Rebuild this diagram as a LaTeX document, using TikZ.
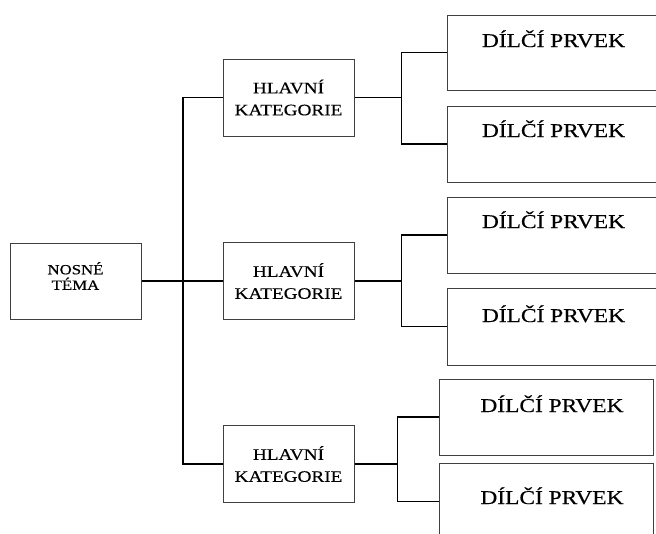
\documentclass[tikz,border=0pt]{standalone}
\usepackage{fontspec}
\setmainfont{Liberation Serif}
\newfontfamily\widefont[FakeStretch=1.2,FakeBold=0.4]{Liberation Serif}

\begin{document}
\begin{tikzpicture}[x=1pt,y=-1pt,
  box/.style={draw=black!75,line width=1pt,inner sep=0pt},
  temabox/.style={box,minimum width=131pt,minimum height=76pt,align=center,
    font=\widefont\fontsize{14}{15.5}\selectfont},
  katbox/.style={box,minimum width=131pt,minimum height=77pt,align=center,
    font=\widefont\fontsize{16}{22}\selectfont},
  dilbox/.style={box,minimum width=213pt,
    font=\widefont\fontsize{19.5}{22}\selectfont},
  link/.style={line width=1.8pt}]
  \clip (0,0) rectangle (656,533);
  \node[temabox,text depth=10pt] (tema) at (75.5,281) {NOSNÉ\\TÉMA};
  \node[katbox] (kat1) at (288.5,97.5) {HLAVNÍ\\KATEGORIE};
  \node[katbox] (kat2) at (288.5,281) {HLAVNÍ\\KATEGORIE};
  \node[katbox] (kat3) at (288.5,464) {HLAVNÍ\\KATEGORIE};
  \node[dilbox,text height=32pt,text depth=43pt] (prv1) at (553.5,52.5) {DÍLČÍ PRVEK};
  \node[dilbox,text height=31pt,text depth=45pt] (prv2) at (553.5,144) {DÍLČÍ PRVEK};
  \node[dilbox,text height=31pt,text depth=45pt] (prv3) at (553.5,235) {DÍLČÍ PRVEK};
  \node[dilbox,text height=34pt,text depth=43pt] (prv4) at (553.5,326.5) {DÍLČÍ PRVEK};
  \node[dilbox,minimum width=214pt,text height=33pt,text depth=43pt] (prv5)
    at (546,417) {\hspace*{12pt}DÍLČÍ PRVEK};
  \node[dilbox,minimum width=214pt,text height=41pt,text depth=36pt] (prv6)
    at (546,501.5) {\hspace*{12pt}DÍLČÍ PRVEK};
  % kmen
  \coordinate (trunk) at (183,281);
  \draw[link] (tema) -- (kat2);
  \draw[link] (kat1.west) -| (trunk) |- (kat3.west);
  % vetve
  \draw[link] (kat1.east) -- ++(47,0) coordinate (br1) |- (prv1.west)
    (br1) |- (prv2.west);
  \draw[link] (kat2.east) -- ++(47,0) coordinate (br2) |- (prv3.west)
    (br2) |- (prv4.west);
  \draw[link] (kat3.east) -- ++(43,0) coordinate (br3) |- (prv5.west)
    (br3) |- (prv6.west);
\end{tikzpicture}
\end{document}
